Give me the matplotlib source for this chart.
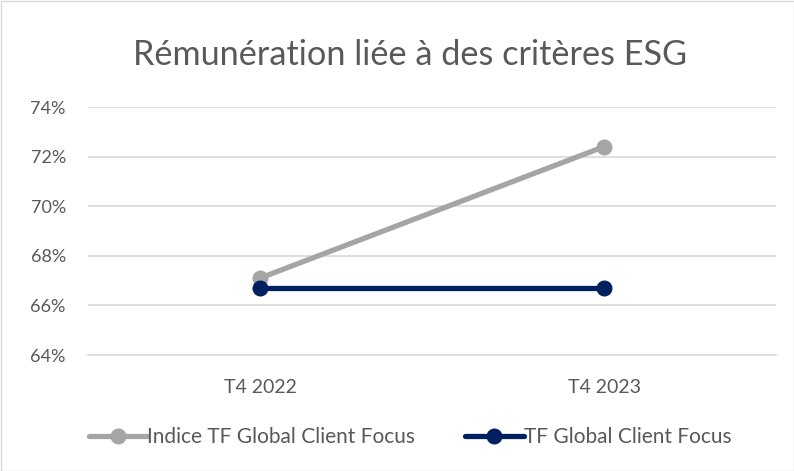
import matplotlib
matplotlib.use("Agg")
import matplotlib.pyplot as plt
from matplotlib.ticker import FuncFormatter
from matplotlib.patches import Rectangle

categories = ["T4 2022", "T4 2023"]
indice_tf = [67.1, 72.4]
tf_global = [66.7, 66.7]
series_labels = ["Indice TF Global Client Focus", "TF Global Client Focus"]
title = "Rémunération liée à des critères ESG"

plt.rcParams['font.family'] = ['Lato', 'DejaVu Sans']
text_color = "#595959"

fig = plt.figure(figsize=(7.94, 4.71), dpi=100)
ax = fig.add_axes([88/794, 1 - 355/471, (776-88)/794, (355-107)/471])

x = list(range(len(categories)))
ax.plot(x, indice_tf, color="#A5A5A5", lw=3.8, marker="o", ms=10.5,
        label=series_labels[0], solid_capstyle="round", zorder=3)
ax.plot(x, tf_global, color="#002060", lw=3.8, marker="o", ms=10.5,
        label=series_labels[1], solid_capstyle="round", zorder=4)

ax.set_xlim(-0.5, 1.5)
ax.set_ylim(64, 74)
ax.set_yticks([64, 66, 68, 70, 72, 74])
ax.yaxis.set_major_formatter(FuncFormatter(lambda v, p: f"{v:.0f}%"))
ax.set_xticks(x)
ax.set_xticklabels(categories)
ax.grid(axis="y", color="#D9D9D9", lw=1.2)
ax.set_axisbelow(True)
for s in ["top", "right", "left"]:
    ax.spines[s].set_visible(False)
ax.spines["bottom"].set_color("#D9D9D9")
ax.spines["bottom"].set_linewidth(1.2)
ax.tick_params(axis="y", length=0, labelsize=13, colors=text_color, pad=16)
ax.tick_params(axis="x", length=0, labelsize=14, colors=text_color, pad=17)

fig.text(410/794, 1 - 55/471, title, ha="center", va="center", fontsize=24.7, color=text_color)

leg = fig.legend(loc="center", bbox_to_anchor=(410/794, 1 - 437/471), ncol=2, frameon=False,
                 fontsize=15, handlelength=2.8, handletextpad=0.0, columnspacing=2.4,
                 labelcolor=text_color)

fig.patches.append(Rectangle((0.5/794, 0.5/471), 1 - 1/794, 1 - 1/471, transform=fig.transFigure,
                             fill=False, edgecolor="#D9D9D9", lw=1))

fig.savefig("out.png", dpi=100)
